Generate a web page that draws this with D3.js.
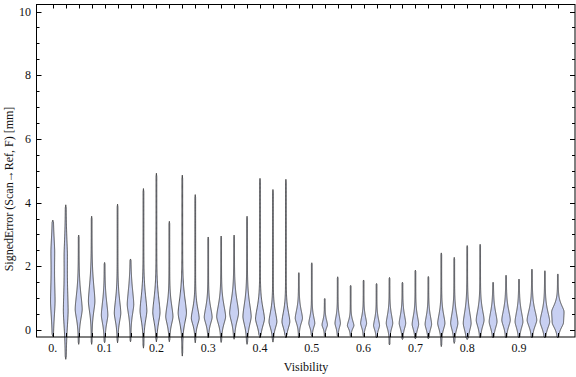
<!DOCTYPE html>
<html>
<head>
<meta charset="utf-8">
<script src="https://cdn.jsdelivr.net/npm/d3@7"></script>
<style>
  body { margin: 0; background: white; }
  text { font-family: "Liberation Serif", "Times New Roman", serif; fill: #111; }
</style>
</head>
<body>
<script>
var width = 576
var height = 377

// one violin per visibility bin
var visibility = [0, 0.025, 0.05, 0.075, 0.1, 0.125, 0.15, 0.175, 0.2, 0.225,
  0.25, 0.275, 0.3, 0.325, 0.35, 0.375, 0.4, 0.425, 0.45, 0.475,
  0.5, 0.525, 0.55, 0.575, 0.6, 0.625, 0.65, 0.675, 0.7, 0.725,
  0.75, 0.775, 0.8, 0.825, 0.85, 0.875, 0.9, 0.925, 0.95, 0.975]
var errMax = [3.45, 3.93, 2.98, 3.57, 2.12, 3.95, 2.23, 4.44, 4.92, 3.41,
  4.86, 4.25, 2.92, 2.95, 2.98, 3.57, 4.76, 4.41, 4.73, 1.80,
  2.11, 0.99, 1.67, 1.40, 1.57, 1.46, 1.65, 1.50, 1.88, 1.68,
  2.42, 2.28, 2.65, 2.69, 1.50, 1.72, 1.60, 1.91, 1.86, 1.76]
var errMin = [-0.2, -0.92, -0.45, -0.45, -0.4, -0.4, -0.37, -0.57, -0.37, -0.37,
  -0.82, -0.4, -0.25, -0.39, -0.29, -0.45, -0.25, -0.38, -0.25, -0.25,
  -0.2, -0.2, -0.2, -0.2, -0.2, -0.25, -0.47, -0.3, -0.28, -0.28,
  -0.52, -0.42, -0.3, -0.25, -0.25, -0.25, -0.25, -0.25, -0.25, -0.25]
var errMode = [0.9, 0.6, 0.65, 0.9, 0.47, 0.53, 0.8, 0.6, 0.55, 0.42,
  0.53, 0.37, 0.4, 0.42, 0.53, 0.42, 0.35, 0.26, 0.26, 0.37,
  0.21, 0.16, 0.21, 0.14, 0.21, 0.14, 0.21, 0.21, 0.18, 0.18,
  0.21, 0.21, 0.21, 0.31, 0.26, 0.31, 0.26, 0.31, 0.26, 0.21]
var errSpread = [0.6, 0.65, 0.36, 0.4, 0.32, 0.32, 0.36, 0.36, 0.36, 0.28,
  0.36, 0.24, 0.24, 0.28, 0.32, 0.32, 0.28, 0.24, 0.24, 0.2,
  0.16, 0.12, 0.16, 0.12, 0.16, 0.16, 0.2, 0.2, 0.2, 0.2,
  0.22, 0.24, 0.28, 0.24, 0.24, 0.24, 0.24, 0.24, 0.24, 0.2]
var peakDensity = [0.36, 0.38, 0.6, 0.55, 0.55, 0.55, 0.55, 0.58, 0.62, 0.62,
  0.72, 0.68, 0.68, 0.78, 0.78, 0.72, 0.78, 0.68, 0.68, 0.62,
  0.5, 0.45, 0.45, 0.55, 0.5, 0.5, 0.55, 0.55, 0.55, 0.55,
  0.62, 0.62, 0.68, 0.68, 0.68, 0.74, 0.68, 0.85, 0.85, 0.8]
// extra humps on a few violins
var secondPeaks = [
  { bin: 0, mode: 2.5, spread: 0.45, density: 0.22 },
  { bin: 1, mode: 2.4, spread: 0.5, density: 0.18 },
  { bin: 39, mode: 0.6, spread: 0.2, density: 0.8 }
]
var yTicks = [0, 2, 4, 6, 8, 10]
var xTickValues = [0, 0.1, 0.2, 0.3, 0.4, 0.5, 0.6, 0.7, 0.8, 0.9]
var xTickLabels = ["0.", "0.1", "0.2", "0.3", "0.4", "0.5", "0.6", "0.7", "0.8", "0.9"]

var fillColor = "#c8d0f2"
var edgeColor = "#3c3c3c"

var frame = { left: 36.5, right: 575, top: 4.5, bottom: 337 }

var x = d3.scaleLinear().domain([0, 1]).range([52.8, 570.8])
var y = d3.scaleLinear().domain([-0.22, 10.22]).range([frame.bottom, frame.top])
var w = d3.scaleLinear().domain([0, 1]).range([0, 5.25])

var svg = d3.select("body")
    .append("svg")
    .attr("width", width)
    .attr("height", height)

function hump(e, mode, spread) {
    return Math.exp(-0.5 * Math.pow(Math.abs(e - mode) / spread, 1.6))
}

// violins
var violins = visibility.map(function (v, i) {
    var extras = secondPeaks.filter(function (p) { return p.bin === i })
    var n = 200
    var pts = d3.range(n + 1).map(function (k) {
        var e = errMin[i] + (errMax[i] - errMin[i]) * k / n
        var s = e > errMode[i] ? errSpread[i] * 1.25 : errSpread[i] * 0.8
        var d = peakDensity[i] * hump(e, errMode[i], s)
        extras.forEach(function (p) {
            d += p.density * hump(e, p.mode, p.spread)
        })
        var endTaper = Math.min(1, k / 4, (n - k) / 4)
        d = (d + 0.07) * endTaper
        return { e: e, d: d }
    })
    return { v: v, pts: pts }
})

var area = d3.area()
    .y(function (p) { return y(p.e) })
    .curve(d3.curveLinear)

svg.selectAll(".violin")
    .data(violins)
    .enter()
    .append("path")
    .attr("class", "violin")
    .attr("d", function (d) {
        var cx = x(d.v)
        return area
            .x0(function (p) { return cx - w(p.d) })
            .x1(function (p) { return cx + w(p.d) })(d.pts)
    })
    .attr("fill", fillColor)
    .attr("stroke", edgeColor)
    .attr("stroke-width", 0.9)
    .attr("stroke-linejoin", "round")

// frame
var axisG = svg.append("g")
    .attr("stroke", "#000")
    .attr("stroke-width", 1)
    .attr("fill", "none")

axisG.append("rect")
    .attr("x", frame.left)
    .attr("y", frame.top)
    .attr("width", frame.right - frame.left)
    .attr("height", frame.bottom - frame.top)

// ticks at the violin positions, top and bottom
visibility.forEach(function (v) {
    var xx = Math.round(x(v)) + 0.5
    axisG.append("line").attr("x1", xx).attr("x2", xx).attr("y1", frame.top).attr("y2", frame.top + 4)
    axisG.append("line").attr("x1", xx).attr("x2", xx).attr("y1", frame.bottom).attr("y2", frame.bottom - 4)
})

// y ticks, major and minor, both sides
d3.range(0, 10.01, 0.5).forEach(function (t) {
    var yy = Math.round(y(t)) + 0.5
    var len = (t % 2 === 0) ? 5 : 3
    axisG.append("line").attr("x1", frame.left).attr("x2", frame.left + len).attr("y1", yy).attr("y2", yy)
    axisG.append("line").attr("x1", frame.right).attr("x2", frame.right - len).attr("y1", yy).attr("y2", yy)
})

svg.selectAll(".ylab")
    .data(yTicks)
    .enter()
    .append("text")
    .attr("class", "ylab")
    .attr("x", 31)
    .attr("y", function (d) { return y(d) + 4 })
    .attr("text-anchor", "end")
    .style("font-size", "12px")
    .text(function (d) { return d })

svg.selectAll(".xlab")
    .data(xTickValues)
    .enter()
    .append("text")
    .attr("class", "xlab")
    .attr("x", function (d) { return x(d) })
    .attr("y", 352)
    .attr("text-anchor", "middle")
    .style("font-size", "12px")
    .text(function (d, i) { return xTickLabels[i] })

svg.append("text")
    .attr("x", 306)
    .attr("y", 371)
    .attr("text-anchor", "middle")
    .style("font-size", "12px")
    .text("Visibility")

svg.append("text")
    .attr("transform", "translate(13,189) rotate(-90)")
    .attr("text-anchor", "middle")
    .style("font-size", "12px")
    .text("SignedError (Scan\u2192Ref, F) [mm]")
</script>
</body>
</html>
